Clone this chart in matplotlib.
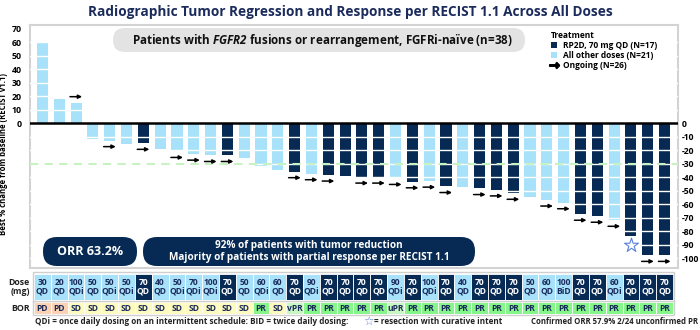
import numpy as np
import matplotlib
matplotlib.use("Agg")
import matplotlib.pyplot as plt
from matplotlib.patches import FancyBboxPatch, Patch, Rectangle
from matplotlib.lines import Line2D

# ---- data ----
dose_mg = [30, 20, 100, 50, 50, 50, 70, 40, 50, 70, 100, 70, 50, 60, 60, 70, 90, 70, 70,
           70, 70, 90, 70, 100, 70, 40, 70, 70, 70, 50, 60, 100, 70, 70, 60, 70, 70, 70]
schedule = ['QD', 'QD', 'QDi', 'QD', 'QDi', 'QDi', 'QD', 'QD', 'QDi', 'QDi',
            'QDi', 'QD', 'QD', 'QDi', 'QD', 'QD', 'QDi', 'QD', 'QD', 'QD',
            'QD', 'QDi', 'QD', 'QDi', 'QD', 'QD', 'QD', 'QD', 'QD', 'QD',
            'QD', 'BiD', 'QD', 'QD', 'QDi', 'QD', 'QD', 'QD']
bor = ['PD', 'PD'] + ['SD'] * 11 + ['PR', 'SD', 'vPR'] + ['PR'] * 5 + ['uPR'] + ['PR'] * 16
pct_change = [60, 18, 15, -12, -13, -15.5, -15, -19, -21, -23, -24, -24, -26, -32, -35,
              -36, -37.5, -38.5, -39.5, -40, -40, -41, -43.5, -43, -47, -47.5, -48.5,
              -49.5, -52, -55, -57, -59, -67.5, -69, -72, -83.5, -98, -98]
ongoing = [3, 5, 7, 9, 10, 11, 12, 16, 17, 18, 20, 21, 22, 23, 24, 25, 27, 28, 29,
           31, 32, 33, 34, 35, 37, 38]          # patient number (1-based)
resected = [36]

DARK = '#062a53'
LIGHT = '#a8e2fa'
NAVY_TXT = '#1b2b5c'
bor_colors = {'PD': '#fbd3b4', 'SD': '#fdfbbf', 'PR': '#86f58a', 'vPR': '#c9f7c4', 'uPR': '#c9f7c4'}

plt.rcParams['font.family'] = ['Open Sans', 'DejaVu Sans']
plt.rcParams['font.weight'] = 'bold'
plt.rcParams['mathtext.fontset'] = 'custom'
plt.rcParams['mathtext.bfit'] = 'Open Sans:bold:italic'
plt.rcParams['mathtext.bf'] = 'Open Sans:bold'

x = np.arange(len(pct_change))
is_rp2d = [(d == 70 and s == 'QD') for d, s in zip(dose_mg, schedule)]
bar_colors = [DARK if r else LIGHT for r in is_rp2d]

fig = plt.figure(figsize=(7, 3.3), dpi=100)
ax_left, ax_w = 30 / 700, 648 / 700
ax = fig.add_axes([ax_left, 1 - 268 / 330, ax_w, 243 / 330])
xlim = (-0.74, 37.8)
ylim = (-107.4, 72.6)

ax.bar(x, pct_change, width=0.66, color=bar_colors, zorder=2)
for g in range(-100, 70, 10):
    if g != 0:
        ax.axhline(g, color='white', lw=1.0, zorder=3)
ax.axhline(-30, color='#c9f2c2', lw=1.5, ls=(0, (4, 3)), zorder=4)
ax.axhline(0, color='black', lw=1.8, zorder=5)

for p in ongoing:
    v = pct_change[p - 1]
    y = v + 4.5 if v > 0 else v - 4.5
    ax.annotate('', xy=(p - 1 + 0.36, y), xytext=(p - 1 - 0.36, y),
                arrowprops=dict(arrowstyle='-|>', color='black', lw=1.1,
                                mutation_scale=5.5, shrinkA=0, shrinkB=0), zorder=6)
for p in resected:
    ax.scatter(p - 1, pct_change[p - 1] - 7, marker='*', s=110, facecolor='white',
               edgecolor='#5a80d8', linewidth=0.8, zorder=6)

ax.set_xlim(*xlim)
ax.set_ylim(*ylim)
ax.set_xticks([])
ax.set_yticks(range(0, 80, 10))
ax.set_yticklabels([str(v) for v in range(0, 80, 10)], fontsize=6.3, fontweight='bold')
ax.tick_params(axis='y', length=0, pad=6)
for s in ax.spines.values():
    s.set_color('#d3d3d3')
    s.set_linewidth(1.5)
ax.set_ylabel('Best % change from baseline (RECIST v1.1)', fontsize=5.6, fontweight='bold')
ax.yaxis.set_label_coords(-0.034, 0.47)

ax2 = ax.twinx()
ax2.set_ylim(*ylim)
rt = list(range(-100, 10, 10))
ax2.set_yticks(rt)
ax2.set_yticklabels([str(v) for v in rt], fontsize=6.2, fontweight='bold')
ax2.tick_params(axis='y', length=0, pad=3)
for s in ax2.spines.values():
    s.set_visible(False)

handles = [Patch(facecolor=DARK, label='RP2D, 70 mg QD (N=17)'),
           Patch(facecolor=LIGHT, label='All other doses (N=21)'),
           Line2D([], [], marker=r'$\rightarrow$', color='black', ls='none',
                  markersize=7, label='Ongoing (N=26)')]
leg = ax.legend(handles=handles, title='Treatment', loc='upper left',
                bbox_to_anchor=(0.795, 1.0), frameon=False, fontsize=6.0,
                title_fontsize=6.0, handlelength=0.7, handleheight=0.7,
                handletextpad=0.7, labelspacing=0.12, borderpad=0.2, alignment='left')
leg.get_title().set_fontweight('bold')

# ---- dose and BOR rows ----
ax_d = fig.add_axes([ax_left, 1 - 300 / 330, ax_w, 26 / 330])
ax_d.bar(x, 1, width=1, bottom=0, color=bar_colors, edgecolor='white', lw=0.6)
for i, (d, s) in enumerate(zip(dose_mg, schedule)):
    ax_d.text(i, 0.5, f'{d}\n{s}', ha='center', va='center', fontsize=6.1,
              fontweight='bold', linespacing=0.95,
              color='white' if is_rp2d[i] else NAVY_TXT)
ax_d.add_patch(Rectangle((-0.55, -0.08), 38.1, 1.16, fill=False, ec='#cfcfcf', lw=1,
                         clip_on=False))
ax_d.text(-0.75, 0.5, 'Dose\n(mg)', ha='right', va='center', fontsize=6.3,
          fontweight='bold', linespacing=0.95, color='#222222')
ax_d.set_xlim(*xlim)
ax_d.set_ylim(0, 1)
ax_d.axis('off')

ax_b = fig.add_axes([ax_left, 1 - 314 / 330, ax_w, 12 / 330])
ax_b.bar(x, 1, width=1, bottom=0, color=[bor_colors[b] for b in bor], edgecolor='white', lw=0.6)
for i, b in enumerate(bor):
    ax_b.text(i, 0.45, b, ha='center', va='center', fontsize=6.1, fontweight='bold',
              color=NAVY_TXT)
ax_b.add_patch(Rectangle((-0.55, -0.12), 38.1, 1.24, fill=False, ec='#cfcfcf', lw=1,
                         clip_on=False))
ax_b.text(-0.75, 0.45, 'BOR', ha='right', va='center', fontsize=6.3, fontweight='bold',
          color='#222222')
ax_b.set_xlim(*xlim)
ax_b.set_ylim(0, 1)
ax_b.axis('off')

# ---- annotations in pixel space ----
ov = fig.add_axes([0, 0, 1, 1])
ov.set_xlim(0, 700)
ov.set_ylim(330, 0)
ov.axis('off')

ov.text(350, 12, 'Radiographic Tumor Regression and Response per RECIST 1.1 Across All Doses',
        ha='center', va='center', fontsize=9.8, fontweight='bold', color=NAVY_TXT)

ov.add_patch(FancyBboxPatch((113, 28), 412, 24, boxstyle='round,pad=0,rounding_size=12',
                            fc='#e3e3e3', ec='none'))
ov.text(322, 40.5, r'Patients with $\mathbfit{FGFR2}$ fusions or rearrangement, FGFRi-naïve (n=38)',
        ha='center', va='center', fontsize=8.4, fontweight='bold', color='#111111')

ov.add_patch(FancyBboxPatch((43, 237), 94, 29, boxstyle='round,pad=0,rounding_size=14',
                            fc=DARK, ec='none'))
ov.text(90, 251.5, 'ORR 63.2%', ha='center', va='center', fontsize=9,
        fontweight='bold', color='white')
ov.add_patch(FancyBboxPatch((143, 237), 332, 29, boxstyle='round,pad=0,rounding_size=14',
                            fc=DARK, ec='none'))
ov.text(309, 251.5, '92% of patients with tumor reduction\n'
        'Majority of patients with partial response per RECIST 1.1',
        ha='center', va='center', fontsize=7.2, fontweight='bold', color='white',
        linespacing=1.05)

ov.text(35, 322, 'QDi = once daily dosing on an intermittent schedule: BID = twice daily dosing:',
        ha='left', va='center', fontsize=5.9, fontweight='bold', color='#222222')
ov.text(368, 321, '☆', ha='center', va='center', fontsize=8.5, color='#5a80d8',
        family='DejaVu Sans')
ov.text(374, 322, '= resection with curative intent', ha='left', va='center',
        fontsize=5.9, fontweight='bold', color='#222222')
ov.text(698, 322, 'Confirmed ORR 57.9% 2/24 unconfirmed PR', ha='right', va='center',
        fontsize=5.6, fontweight='bold', color='#222222')

fig.savefig('out.png', dpi=100)
